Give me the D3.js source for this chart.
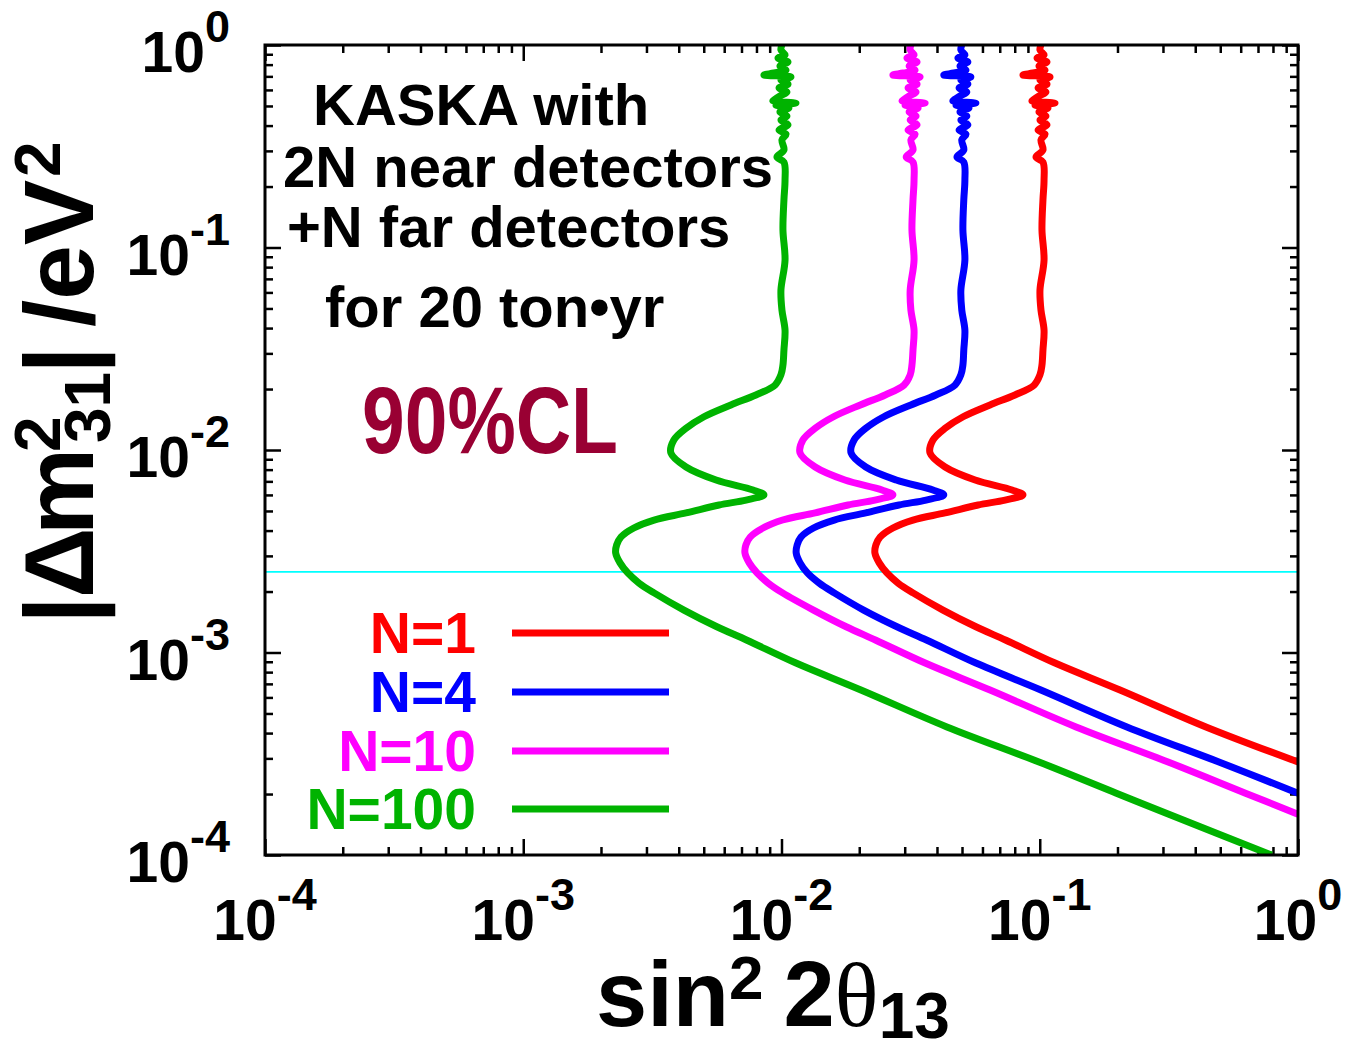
<!DOCTYPE html>
<html>
<head>
<meta charset="utf-8">
<title>KASKA sensitivity</title>
<script src="https://d3js.org/d3.v7.min.js"></script>
<style>
  body { margin: 0; background: #fff; }
  text { font-family: "Liberation Sans", Arial, sans-serif; font-weight: bold; }
</style>
</head>
<body>
<svg id="chart" width="1349" height="1047"></svg>
<script>
// |dm2_31| grid (eV^2), shared by all curves
var dm2 = [1.00, 0.945, 0.893, 0.863, 0.824, 0.788, 0.752, 0.727, 0.711, 0.695,
  0.672, 0.642, 0.613, 0.586, 0.560, 0.535, 0.529, 0.517, 0.505, 0.489,
  0.467, 0.446, 0.426, 0.403, 0.380, 0.363, 0.340, 0.303, 0.280, 0.264,
  0.215, 0.172, 0.122, 0.0867, 0.0617, 0.0491, 0.0391, 0.0312, 0.0263, 0.0235,
  0.0209, 0.0187, 0.0167, 0.0146, 0.0128, 0.0112, 0.00966, 0.00824, 0.00711, 0.00635,
  0.00600, 0.00566, 0.00535, 0.00489, 0.00451, 0.00412, 0.00372, 0.00340, 0.00310, 0.00277,
  0.00247, 0.00220, 0.00197, 0.00162, 0.00134, 0.00115, 0.000887, 0.000653, 0.000429, 0.000288,
  0.000202, 0.000159, 0.000100];

// sin^2 2theta13 at each dm2 (null = curve already left the frame)
var sinN1 = [0.1011, 0.1002, 0.1039, 0.0976, 0.1067, 0.0993, 0.1048, 0.0942, 0.0861, 0.1096,
  0.1002, 0.1067, 0.0985, 0.1057, 0.0993, 0.0942, 0.0933, 0.1146, 0.0959, 0.1076,
  0.0993, 0.1057, 0.1002, 0.1067, 0.0985, 0.1048, 0.1011, 0.1029, 0.0967, 0.1029,
  0.1039, 0.1029, 0.1020, 0.1039, 0.1002, 0.1011, 0.1039, 0.1029, 0.1020, 0.1002,
  0.0950, 0.0802, 0.0642, 0.0505, 0.0430, 0.0386, 0.0376, 0.0430, 0.0562, 0.0781,
  0.0861, 0.0734, 0.0577, 0.0430, 0.0323, 0.0270, 0.0241, 0.0232, 0.0230, 0.0239,
  0.0256, 0.0283, 0.0323, 0.0422, 0.0566, 0.0740, 0.1146, 0.2045, 0.4402, 1.0,
  null, null, null];

var sinN4 = [0.0499, 0.0495, 0.0513, 0.0482, 0.0527, 0.0491, 0.0518, 0.0465, 0.0425, 0.0541,
  0.0495, 0.0527, 0.0487, 0.0522, 0.0491, 0.0465, 0.0461, 0.0566, 0.0474, 0.0532,
  0.0491, 0.0522, 0.0495, 0.0527, 0.0487, 0.0518, 0.0499, 0.0508, 0.0478, 0.0508,
  0.0513, 0.0508, 0.0504, 0.0513, 0.0495, 0.0499, 0.0513, 0.0508, 0.0504, 0.0495,
  0.0469, 0.0396, 0.0317, 0.0249, 0.0212, 0.0191, 0.0186, 0.0212, 0.0278, 0.0386,
  0.0425, 0.0363, 0.0285, 0.0212, 0.0160, 0.0133, 0.0119, 0.0115, 0.0114, 0.0118,
  0.0126, 0.0140, 0.0160, 0.0208, 0.0280, 0.0366, 0.0566, 0.1010, 0.2175, 0.494,
  1.0, null, null];

var sinN10 = [0.0317, 0.0315, 0.0326, 0.0306, 0.0335, 0.0312, 0.0329, 0.0296, 0.0270, 0.0344,
  0.0315, 0.0335, 0.0309, 0.0332, 0.0312, 0.0296, 0.0293, 0.0360, 0.0301, 0.0338,
  0.0312, 0.0332, 0.0315, 0.0335, 0.0309, 0.0329, 0.0317, 0.0323, 0.0304, 0.0323,
  0.0326, 0.0323, 0.0320, 0.0326, 0.0315, 0.0317, 0.0326, 0.0323, 0.0320, 0.0315,
  0.0298, 0.0252, 0.0202, 0.0159, 0.0135, 0.0121, 0.0118, 0.0135, 0.0176, 0.0245,
  0.0270, 0.0230, 0.0181, 0.0135, 0.0101, 0.00848, 0.00757, 0.00728, 0.00722, 0.00750,
  0.00804, 0.00889, 0.0101, 0.0133, 0.0178, 0.0232, 0.0360, 0.0642, 0.1382, 0.314,
  0.626, 1.0, null];

var sinN100 = [0.01004, 0.00995, 0.01032, 0.00969, 0.01060, 0.00986, 0.01041, 0.00935, 0.00855, 0.01088,
  0.00995, 0.01060, 0.00978, 0.01050, 0.00986, 0.00935, 0.00926, 0.01138, 0.00952, 0.01068,
  0.00986, 0.01050, 0.00995, 0.01060, 0.00978, 0.01041, 0.01004, 0.01022, 0.00960, 0.01022,
  0.01032, 0.01022, 0.01013, 0.01032, 0.00995, 0.01004, 0.01032, 0.01022, 0.01013, 0.00995,
  0.00943, 0.00796, 0.00637, 0.00501, 0.00427, 0.00383, 0.00373, 0.00427, 0.00558, 0.00776,
  0.00855, 0.00729, 0.00573, 0.00427, 0.00321, 0.00268, 0.00239, 0.00230, 0.00228, 0.00237,
  0.00254, 0.00281, 0.00321, 0.00419, 0.00562, 0.00735, 0.01138, 0.0203, 0.0437, 0.0993,
  0.198, 0.316, 0.79];

var seriesNames = ["N=1", "N=4", "N=10", "N=100"];
var seriesColors = ["#ff0000", "#0000ff", "#ff00ff", "#00b300"];
var seriesValues = [sinN1, sinN4, sinN10, sinN100];

var majorTicks = [1e-4, 1e-3, 1e-2, 1e-1, 1];
var tickExponents = ["-4", "-3", "-2", "-1", "0"];
var atmDm2 = 2.5e-3;

var svg = d3.select("#chart");
var plotL = 265, plotR = 1298, plotT = 45, plotB = 855;

var x = d3.scaleLog().domain([1e-4, 1]).range([plotL, plotR]);
var y = d3.scaleLog().domain([1e-4, 1]).range([plotB, plotT]);

// minor ticks 2..9 in every decade
var minorTicks = [];
majorTicks.slice(0, -1).forEach(function(m) {
  for (var k = 2; k <= 9; k++) minorTicks.push(m * k);
});

svg.append("clipPath").attr("id", "plotclip")
  .append("rect").attr("x", plotL).attr("y", plotT)
  .attr("width", plotR - plotL).attr("height", plotB - plotT);

// tick marks, all pointing inward
function tickLayer(axisFn, scale, vals, size, tx, ty) {
  svg.append("g")
    .attr("transform", "translate(" + tx + "," + ty + ")")
    .call(axisFn(scale).tickValues(vals).tickSize(size).tickFormat(""))
    .call(function(g) { g.select(".domain").remove(); })
    .selectAll("line").attr("stroke", "#000").attr("stroke-width", 2.5);
}
tickLayer(d3.axisBottom, x, majorTicks, -16, 0, plotB);
tickLayer(d3.axisBottom, x, minorTicks, -8, 0, plotB);
tickLayer(d3.axisTop, x, majorTicks, -16, 0, plotT);
tickLayer(d3.axisTop, x, minorTicks, -8, 0, plotT);
tickLayer(d3.axisLeft, y, majorTicks, -16, plotL, 0);
tickLayer(d3.axisLeft, y, minorTicks, -8, plotL, 0);
tickLayer(d3.axisRight, y, majorTicks, -16, plotR, 0);
tickLayer(d3.axisRight, y, minorTicks, -8, plotR, 0);

// cyan reference line
svg.append("line")
  .attr("x1", plotL).attr("x2", plotR)
  .attr("y1", y(atmDm2)).attr("y2", y(atmDm2))
  .attr("stroke", "#00ffff").attr("stroke-width", 1.6);

// curves
var line = d3.line()
  .defined(function(d) { return d[0] != null; })
  .x(function(d) { return x(d[0]); })
  .y(function(d) { return y(d[1]); })
  .curve(d3.curveCatmullRom.alpha(0.5));

var curves = svg.append("g").attr("clip-path", "url(#plotclip)");
seriesValues.forEach(function(vals, i) {
  var pts = vals.map(function(s, j) { return [s, dm2[j]]; });
  curves.append("path")
    .datum(pts)
    .attr("d", line)
    .attr("fill", "none")
    .attr("stroke", seriesColors[i])
    .attr("stroke-width", 7)
    .attr("stroke-linejoin", "round");
});

// frame
svg.append("rect")
  .attr("x", plotL).attr("y", plotT)
  .attr("width", plotR - plotL).attr("height", plotB - plotT)
  .attr("fill", "none").attr("stroke", "#000").attr("stroke-width", 3);

// x tick labels
majorTicks.forEach(function(v, i) {
  var t = svg.append("text").attr("x", x(v)).attr("y", 940)
    .attr("text-anchor", "middle").attr("font-size", 57);
  t.append("tspan").text("10");
  t.append("tspan").attr("dy", -30).attr("font-size", 45).text(tickExponents[i]);
});

// y tick labels
majorTicks.forEach(function(v, i) {
  var t = svg.append("text").attr("x", 230).attr("y", y(v) + 27)
    .attr("text-anchor", "end").attr("font-size", 57);
  t.append("tspan").text("10");
  t.append("tspan").attr("dy", -30).attr("font-size", 45).text(tickExponents[i]);
});

// x axis title
var xt = svg.append("text").attr("x", 596).attr("y", 1026).attr("font-size", 92);
xt.append("tspan").text("sin");
xt.append("tspan").attr("font-size", 62).attr("dy", -27).text("2");
xt.append("tspan").attr("dy", 27).attr("dx", 20).text("2");
xt.append("tspan").attr("font-family", "'Liberation Serif', 'DejaVu Serif', serif")
  .attr("font-weight", "normal").text("\u03b8");
xt.append("tspan").attr("font-size", 64).attr("dy", 12).text("13");

// y axis title (rotated)
var yt = svg.append("g").attr("transform", "translate(93,615) rotate(-90)");
yt.append("text").attr("x", 5).attr("text-anchor", "middle").attr("font-size", 98).text("|");
yt.append("text").attr("x", 17).attr("font-size", 98).attr("font-weight", "normal").text("\u0394");
yt.append("text").attr("x", 80).attr("font-size", 98).text("m");
yt.append("text").attr("x", 163).attr("y", -33).attr("font-size", 64).text("2");
yt.append("text").attr("x", 172).attr("y", 17).attr("font-size", 64).text("31");
yt.append("text").attr("x", 255).attr("text-anchor", "middle").attr("font-size", 98).text("|");
yt.append("text").attr("x", 288).attr("font-size", 98).text("/eV");
yt.append("text").attr("x", 438).attr("y", -33).attr("font-size", 64).text("2");

// annotation block
var notes = [
  {t: "KASKA with", x: 313, y: 125},
  {t: "2N near detectors", x: 283, y: 187},
  {t: "+N far detectors", x: 287, y: 247},
  {t: "for 20 ton\u2022yr", x: 325, y: 327}
];
notes.forEach(function(n) {
  svg.append("text").attr("x", n.x).attr("y", n.y).attr("font-size", 58).text(n.t);
});

svg.append("text").attr("x", 362).attr("y", 453)
  .attr("font-size", 95).attr("fill", "#990033")
  .attr("textLength", 256).attr("lengthAdjust", "spacingAndGlyphs")
  .text("90%CL");

// legend
var legendY = [633, 692, 751, 809];
seriesNames.forEach(function(name, i) {
  svg.append("text").attr("x", 476).attr("y", legendY[i] + 20)
    .attr("text-anchor", "end").attr("font-size", 57)
    .attr("fill", seriesColors[i]).text(name);
  svg.append("line")
    .attr("x1", 512).attr("x2", 669)
    .attr("y1", legendY[i]).attr("y2", legendY[i])
    .attr("stroke", seriesColors[i]).attr("stroke-width", 7);
});
</script>
</body>
</html>
